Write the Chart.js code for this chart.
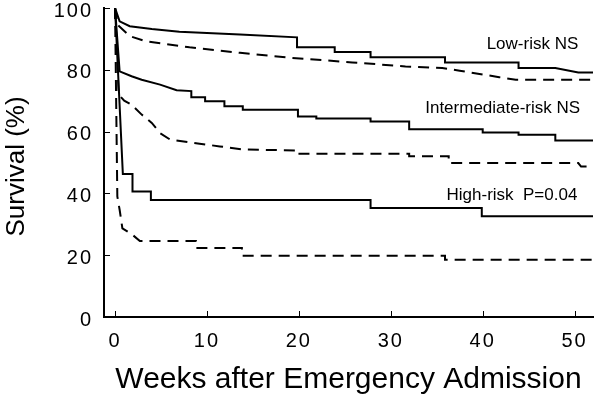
<!DOCTYPE html>
<html><head><meta charset="utf-8">
<script src="https://cdn.jsdelivr.net/npm/chart.js@4.4.1/dist/chart.umd.min.js"></script>
<style>html,body{margin:0;padding:0;background:#fff}#wrap{width:600px;height:400px;position:relative}</style>
</head><body><div id="wrap"><canvas id="c"></canvas></div>
<script>
// ---- data (weeks, survival %) ----
const xTicks = [0, 10, 20, 30, 40, 50];
const yTicks = [0, 20, 40, 60, 80, 100];

const lowSolidWeeks = [0, 0.5, 1.6, 4, 7, 13.6, 19.8, 19.8, 23.9, 23.9, 27.8, 27.8, 35.9, 35.9, 43.9, 43.9, 47.9, 50.4, 52];
const lowSolidSurv  = [100, 95.7, 94.1, 93.2, 92.3, 91.4, 90.5, 87.3, 87.3, 85.8, 85.8, 84.1, 84.1, 82.4, 82.4, 80.6, 80.6, 79.1, 79.1];

const lowDashWeeks = [0, 0.3, 1.6, 3.4, 8.1, 13.6, 19, 25.8, 31.6, 35.6, 37.5, 41.8, 43.6, 52];
const lowDashSurv  = [100, 94.5, 90.9, 89.2, 87.3, 85.5, 83.9, 82.4, 81.1, 80.6, 79.7, 77.6, 76.8, 76.8];

const intSolidWeeks = [0, 0.5, 1.8, 2.9, 4.9, 6.7, 8.3, 8.3, 9.8, 9.8, 11.9, 11.9, 13.9, 13.9, 19.9, 19.9, 21.9, 21.9, 27.8, 27.8, 32, 32, 40, 40, 43.9, 43.9, 47.9, 47.9, 52];
const intSolidSurv  = [100, 79.5, 77.9, 76.8, 75.2, 73.4, 73.1, 71.1, 71.1, 69.8, 69.8, 68.2, 68.2, 67.1, 67.1, 64.9, 64.9, 64.2, 64.2, 63.3, 63.3, 60.8, 60.8, 59.7, 59.7, 59.0, 59.0, 57.1, 57.1];

const intDashWeeks = [0, 0.4, 1, 1.8, 2.9, 4, 4.9, 6, 9.2, 11.4, 14, 19.8, 19.8, 32, 32, 36.3, 36.3, 50.4, 50.7, 52];
const intDashSurv  = [100, 72, 70, 68.7, 65.5, 62.8, 59.5, 57.4, 56.1, 55.2, 54.2, 53.9, 52.8, 52.8, 52.0, 52.0, 49.8, 49.8, 48.7, 48.7];

const highSolidWeeks = [0, 0.85, 1.9, 1.9, 3.9, 3.9, 27.8, 27.8, 39.9, 39.9, 52];
const highSolidSurv  = [100, 46.3, 46.3, 40.6, 40.6, 37.9, 37.9, 35.3, 35.3, 32.6, 32.6];

const highDashWeeks = [0, 0.25, 0.5, 0.8, 1.9, 2.7, 8.8, 8.8, 13.8, 13.8, 35.9, 35.9, 52];
const highDashSurv  = [100, 39, 34.7, 28.7, 26.6, 24.6, 24.6, 22.3, 22.3, 19.8, 19.8, 18.5, 18.5];

const groupLabels = ['Low-risk NS', 'Intermediate-risk NS', 'High-risk  P=0.04'];
const xTitle = 'Weeks after Emergency Admission';
const yTitle = 'Survival (%)';

// ---- chart ----
const pts = (xs, ys) => xs.map((x, i) => ({x, y: ys[i]}));
const solid = (xs, ys) => ({data: pts(xs, ys), borderColor: '#000', borderWidth: 2, pointRadius: 0, fill: false, tension: 0});
const dashed = (xs, ys) => ({data: pts(xs, ys), borderColor: '#000', borderWidth: 2, borderDash: [11, 7], pointRadius: 0, fill: false, tension: 0});

const FONT = '"Liberation Sans", Arial, Helvetica, sans-serif';
const labelAnchors = [ {x: 50.4, y: 88.2}, {x: 50.6, y: 67.6}, {x: 50.3, y: 39.4} ];

const wideTicks = {
  id: 'wideTicks',
  beforeDraw(chart) { chart.ctx.letterSpacing = '2px'; },
  afterDraw(chart) { chart.ctx.letterSpacing = '0px'; }
};

const extras = {
  id: 'extras',
  afterDraw(chart) {
    const {ctx, scales: {x, y}, chartArea: a} = chart;
    ctx.save();
    ctx.letterSpacing = '0px';
    ctx.strokeStyle = '#000';
    ctx.lineWidth = 1;
    ctx.beginPath();
    xTicks.forEach(v => {
      const px = Math.round(x.getPixelForValue(v)) + 0.5;
      ctx.moveTo(px, a.bottom); ctx.lineTo(px, a.bottom - 6);
    });
    yTicks.forEach(v => {
      const py = Math.round(y.getPixelForValue(v)) + 0.5;
      ctx.moveTo(a.left, py); ctx.lineTo(a.left + 6, py);
    });
    ctx.stroke();
    ctx.fillStyle = '#000';
    // group labels
    ctx.font = '17px ' + FONT;
    ctx.textAlign = 'right';
    ctx.textBaseline = 'middle';
    groupLabels.forEach((t, i) => {
      ctx.fillText(t, x.getPixelForValue(labelAnchors[i].x), y.getPixelForValue(labelAnchors[i].y));
    });
    // axis titles
    ctx.font = '30px ' + FONT;
    ctx.textAlign = 'center';
    ctx.textBaseline = 'alphabetic';
    ctx.fillText(xTitle, (a.left + a.right) / 2, 388);
    ctx.save();
    ctx.translate(17, (a.top + a.bottom) / 2 + 4);
    ctx.rotate(-Math.PI / 2);
    ctx.font = '26px ' + FONT;
    ctx.textBaseline = 'middle';
    ctx.fillText(yTitle, 0, 0);
    ctx.restore();
    ctx.restore();
  }
};

new Chart(document.getElementById('c'), {
  type: 'line',
  data: {
    datasets: [
      solid(lowSolidWeeks, lowSolidSurv),
      dashed(lowDashWeeks, lowDashSurv),
      solid(intSolidWeeks, intSolidSurv),
      dashed(intDashWeeks, intDashSurv),
      solid(highSolidWeeks, highSolidSurv),
      dashed(highDashWeeks, highDashSurv)
    ]
  },
  options: {
    responsive: true,
    maintainAspectRatio: false,
    animation: false,
    layout: {padding: {top: 8, right: 7, left: 0, bottom: 0}},
    plugins: {legend: {display: false}, tooltip: {enabled: false}},
    scales: {
      x: {
        type: 'linear', min: -1.2, max: 52,
        afterBuildTicks: s => { s.ticks = xTicks.map(v => ({value: v})); },
        afterFit: s => { s.height = 83; s.paddingLeft = 0; s.paddingRight = 0; },
        grid: {display: false, drawTicks: false},
        border: {display: true, color: '#000', width: 2},
        ticks: {color: '#000', font: {family: FONT, size: 20}, padding: 12, maxRotation: 0, autoSkip: false},
        title: {display: false}
      },
      y: {
        type: 'linear', min: 0, max: 100,
        afterBuildTicks: s => { s.ticks = yTicks.map(v => ({value: v})); },
        afterFit: s => { s.width = 104; s.paddingTop = 0; s.paddingBottom = 0; },
        grid: {display: false, drawTicks: false},
        border: {display: true, color: '#000', width: 2},
        ticks: {color: '#000', font: {family: FONT, size: 20}, padding: 11, labelOffset: 3},
        title: {display: false}
      }
    }
  },
  plugins: [wideTicks, extras]
});
</script>
</body></html>
